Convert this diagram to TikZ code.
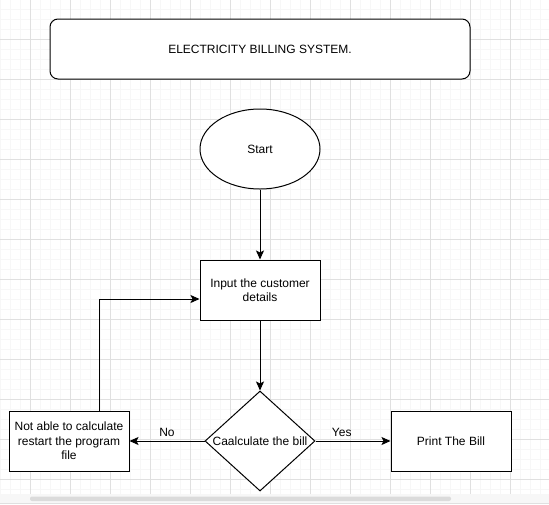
\documentclass[tikz,border=0pt]{standalone}
\usepackage{fontspec}
\setmainfont{Liberation Sans}
\usetikzlibrary{shapes.geometric,arrows.meta,positioning}

\tikzstyle{titlebox} = [draw=black, fill=white, rectangle, rounded corners=8pt, minimum width=420pt, minimum height=60pt]
\tikzstyle{startnode} = [draw=black, fill=white, ellipse, minimum width=120pt, minimum height=80pt]
\tikzstyle{procbox} = [draw=black, fill=white, rectangle, align=center, minimum width=120pt, minimum height=60pt]
\tikzstyle{decision} = [draw=black, fill=white, diamond, inner sep=0pt, minimum width=110pt, minimum height=100pt]
\tikzstyle{flow} = [-{Stealth[length=9pt,width=8pt,inset=2pt]}]

\begin{document}
\begin{tikzpicture}[x=1pt, y=-1pt, line width=1pt, node distance=70pt, font=\fontsize{12}{14.5}\selectfont]
\useasboundingbox (0,0) rectangle (549,504);
\fill[white] (0,0) rectangle (549,494);
\foreach \x in {0,10,...,540} \draw[black!3] (\x,0) -- (\x,494);
\foreach \y in {9,19,...,489} \draw[black!3] (0,\y) -- (549,\y);
\foreach \x in {30,70,...,510} \draw[black!12] (\x,0) -- (\x,494);
\foreach \y in {39,79,...,479} \draw[black!12] (0,\y) -- (549,\y);
\fill[black!3] (0,494) rectangle (549,504);
\fill[black!14, rounded corners=2pt] (30,496.5) rectangle (451,501);
\draw[black!12] (0,503.5) -- (549,503.5);

\node[titlebox] (title) at (260,49) {ELECTRICITY BILLING SYSTEM.};
\node[startnode] (start) at (260,149) {Start};
\node[procbox, below=of start] (input) {Input the customer\\details};
\node[decision, below=of input, label=center:{Caalculate the bill}] (calc) {};
\node[procbox, left=75pt of calc] (fail) {Not able to calculate\\restart the program\\file};
\node[procbox, right=75pt of calc] (print) {Print The Bill};
\coordinate (backin) at ([yshift=-9pt]input.west);

\draw[flow] (start) -- (input);
\draw[flow] (input) -- (calc);
\draw[flow] (calc.east) -- node[above=1pt, pos=0.35] {Yes} (print.west);
\draw[flow] (calc.west) -- node[above=1pt] {No} (fail.east);
\draw[flow] ([xshift=30pt]fail.north) |- (backin);
\end{tikzpicture}
\end{document}
